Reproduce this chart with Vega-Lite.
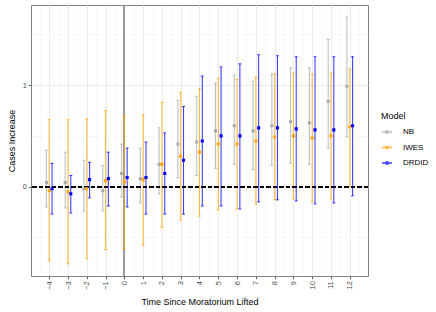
{
  "$schema": "https://vega.github.io/schema/vega-lite/v6.json",
  "autosize": "none",
  "width": 337,
  "height": 271,
  "padding": {"left": 31, "top": 5, "right": 68, "bottom": 36},
  "background": "white",
  "config": {
    "font": "Liberation Sans",
    "view": {"stroke": "#808080", "strokeWidth": 1},
    "axis": {
      "domain": false,
      "labelFont": "Liberation Sans",
      "titleFont": "Liberation Sans",
      "labelColor": "#4d4d4d",
      "labelFontSize": 7.5,
      "titleFontSize": 9,
      "titleFontWeight": "normal",
      "titleColor": "#000000",
      "tickColor": "#333333",
      "tickSize": 2.7,
      "tickWidth": 0.8
    },
    "legend": {
      "titleFont": "Liberation Sans",
      "labelFont": "Liberation Sans",
      "titleFontSize": 9,
      "titleFontWeight": "normal",
      "labelFontSize": 8,
      "labelColor": "#000000"
    }
  },
  "data": {
    "values": [
      {"t": -4, "Model": "NB", "est": 0.04, "lo": -0.20, "hi": 0.36},
      {"t": -3, "Model": "NB", "est": 0.04, "lo": -0.21, "hi": 0.34},
      {"t": -2, "Model": "NB", "est": -0.02, "lo": -0.24, "hi": 0.26},
      {"t": -1, "Model": "NB", "est": -0.04, "lo": -0.24, "hi": 0.21},
      {"t": 0, "Model": "NB", "est": 0.13, "lo": -0.10, "hi": 0.42},
      {"t": 1, "Model": "NB", "est": 0.08, "lo": -0.16, "hi": 0.38},
      {"t": 2, "Model": "NB", "est": 0.22, "lo": -0.07, "hi": 0.58},
      {"t": 3, "Model": "NB", "est": 0.42, "lo": 0.09, "hi": 0.85},
      {"t": 4, "Model": "NB", "est": 0.44, "lo": 0.11, "hi": 0.89},
      {"t": 5, "Model": "NB", "est": 0.55, "lo": 0.18, "hi": 1.02},
      {"t": 6, "Model": "NB", "est": 0.60, "lo": 0.22, "hi": 1.10},
      {"t": 7, "Model": "NB", "est": 0.55, "lo": 0.17, "hi": 1.04},
      {"t": 8, "Model": "NB", "est": 0.60, "lo": 0.21, "hi": 1.11},
      {"t": 9, "Model": "NB", "est": 0.64, "lo": 0.23, "hi": 1.17},
      {"t": 10, "Model": "NB", "est": 0.63, "lo": 0.22, "hi": 1.17},
      {"t": 11, "Model": "NB", "est": 0.84, "lo": 0.38, "hi": 1.45},
      {"t": 12, "Model": "NB", "est": 0.99, "lo": 0.49, "hi": 1.67},
      {"t": -4, "Model": "IWES", "est": -0.04, "lo": -0.73, "hi": 0.66},
      {"t": -3, "Model": "IWES", "est": -0.05, "lo": -0.76, "hi": 0.66},
      {"t": -2, "Model": "IWES", "est": -0.02, "lo": -0.71, "hi": 0.67},
      {"t": -1, "Model": "IWES", "est": 0.06, "lo": -0.62, "hi": 0.75},
      {"t": 0, "Model": "IWES", "est": 0.05, "lo": -0.61, "hi": 0.70},
      {"t": 1, "Model": "IWES", "est": 0.07, "lo": -0.58, "hi": 0.71},
      {"t": 2, "Model": "IWES", "est": 0.22, "lo": -0.40, "hi": 0.83},
      {"t": 3, "Model": "IWES", "est": 0.30, "lo": -0.33, "hi": 0.93},
      {"t": 4, "Model": "IWES", "est": 0.34, "lo": -0.29, "hi": 0.97},
      {"t": 5, "Model": "IWES", "est": 0.42, "lo": -0.23, "hi": 1.07},
      {"t": 6, "Model": "IWES", "est": 0.42, "lo": -0.22, "hi": 1.06},
      {"t": 7, "Model": "IWES", "est": 0.45, "lo": -0.17, "hi": 1.08},
      {"t": 8, "Model": "IWES", "est": 0.49, "lo": -0.13, "hi": 1.11},
      {"t": 9, "Model": "IWES", "est": 0.50, "lo": -0.12, "hi": 1.12},
      {"t": 10, "Model": "IWES", "est": 0.48, "lo": -0.15, "hi": 1.11},
      {"t": 11, "Model": "IWES", "est": 0.50, "lo": -0.12, "hi": 1.12},
      {"t": 12, "Model": "IWES", "est": 0.59, "lo": 0.00, "hi": 1.16},
      {"t": -4, "Model": "DRDID", "est": -0.02, "lo": -0.27, "hi": 0.23},
      {"t": -3, "Model": "DRDID", "est": -0.07, "lo": -0.26, "hi": 0.11},
      {"t": -2, "Model": "DRDID", "est": 0.07, "lo": -0.11, "hi": 0.24},
      {"t": -1, "Model": "DRDID", "est": 0.08, "lo": -0.19, "hi": 0.34},
      {"t": 0, "Model": "DRDID", "est": 0.09, "lo": -0.20, "hi": 0.38},
      {"t": 1, "Model": "DRDID", "est": 0.09, "lo": -0.27, "hi": 0.44},
      {"t": 2, "Model": "DRDID", "est": 0.13, "lo": -0.27, "hi": 0.53},
      {"t": 3, "Model": "DRDID", "est": 0.26, "lo": -0.27, "hi": 0.79},
      {"t": 4, "Model": "DRDID", "est": 0.45, "lo": -0.19, "hi": 1.09},
      {"t": 5, "Model": "DRDID", "est": 0.50, "lo": -0.19, "hi": 1.18},
      {"t": 6, "Model": "DRDID", "est": 0.50, "lo": -0.22, "hi": 1.21},
      {"t": 7, "Model": "DRDID", "est": 0.58, "lo": -0.15, "hi": 1.30},
      {"t": 8, "Model": "DRDID", "est": 0.58, "lo": -0.13, "hi": 1.29},
      {"t": 9, "Model": "DRDID", "est": 0.57, "lo": -0.14, "hi": 1.28},
      {"t": 10, "Model": "DRDID", "est": 0.56, "lo": -0.17, "hi": 1.28},
      {"t": 11, "Model": "DRDID", "est": 0.56, "lo": -0.16, "hi": 1.28},
      {"t": 12, "Model": "DRDID", "est": 0.60, "lo": -0.09, "hi": 1.28}
    ]
  },
  "encoding": {
    "x": {
      "field": "t",
      "type": "quantitative",
      "title": "Time Since Moratorium Lifted",
      "scale": {"domain": [-4.97, 12.97], "nice": false, "zero": false},
      "axis": {
        "values": [-4.5, -4, -3.5, -3, -2.5, -2, -1.5, -1, -0.5, 0, 0.5, 1, 1.5, 2, 2.5, 3, 3.5, 4, 4.5, 5, 5.5, 6, 6.5, 7, 7.5, 8, 8.5, 9, 9.5, 10, 10.5, 11, 11.5, 12, 12.5],
        "labelExpr": "datum.value % 1 === 0 ? format(datum.value, 'd') : ''",
        "labelAngle": -90,
        "labelAlign": "right",
        "labelBaseline": "middle",
        "labelPadding": 2,
        "labelFlush": false,
        "labelOverlap": false,
        "titlePadding": 8,
        "grid": true,
        "gridColor": {"condition": {"test": "datum.value % 1 === 0", "value": "#ebebeb"}, "value": "#f4f4f4"},
        "gridWidth": {"condition": {"test": "datum.value % 1 === 0", "value": 1}, "value": 0.6},
        "tickOpacity": {"condition": {"test": "datum.value % 1 === 0", "value": 1}, "value": 0}
      }
    },
    "y": {
      "field": "est",
      "type": "quantitative",
      "title": "Cases Increase",
      "scale": {"domain": [-0.88, 1.79], "nice": false, "zero": false},
      "axis": {
        "values": [-0.5, 0, 0.5, 1, 1.5],
        "labelExpr": "datum.value % 1 === 0 ? format(datum.value, 'd') : ''",
        "labelPadding": 2,
        "titlePadding": 6,
        "grid": true,
        "gridColor": {"condition": {"test": "datum.value % 1 === 0", "value": "#ebebeb"}, "value": "#f4f4f4"},
        "gridWidth": {"condition": {"test": "datum.value % 1 === 0", "value": 1}, "value": 0.6},
        "tickOpacity": {"condition": {"test": "datum.value % 1 === 0", "value": 1}, "value": 0}
      }
    },
    "color": {
      "field": "Model",
      "type": "nominal",
      "scale": {"domain": ["NB", "IWES", "DRDID"], "range": ["#a9a9a9", "#ffa500", "#0000ff"]},
      "legend": {
        "title": "Model",
        "orient": "none",
        "legendX": 350,
        "legendY": 107,
        "symbolType": "M-1,0H1M-0.2,-0.2H0.2V0.2H-0.2Z",
        "symbolSize": 100,
        "symbolStrokeWidth": 1.3,
        "rowPadding": 5.5,
        "labelOffset": 10,
        "titlePadding": 5
      }
    }
  },
  "layer": [
    {
      "mark": {"type": "rule", "color": "#999999", "strokeWidth": 1},
      "encoding": {"x": {"datum": 0, "type": "quantitative"}, "y": null, "color": null}
    },
    {
      "transform": [{"filter": "datum.Model === 'NB'"}],
      "mark": {"type": "rule", "strokeWidth": 1.1, "opacity": 0.75, "xOffset": -2.8},
      "encoding": {"y": {"field": "lo", "type": "quantitative", "title": "Cases Increase"}, "y2": {"field": "hi"}}
    },
    {
      "transform": [{"filter": "datum.Model === 'NB'"}],
      "mark": {"type": "tick", "orient": "horizontal", "size": 3, "thickness": 1, "opacity": 0.75, "xOffset": -2.8},
      "encoding": {"y": {"field": "lo", "type": "quantitative", "title": "Cases Increase"}}
    },
    {
      "transform": [{"filter": "datum.Model === 'NB'"}],
      "mark": {"type": "tick", "orient": "horizontal", "size": 3, "thickness": 1, "opacity": 0.75, "xOffset": -2.8},
      "encoding": {"y": {"field": "hi", "type": "quantitative", "title": "Cases Increase"}}
    },
    {
      "transform": [{"filter": "datum.Model === 'IWES'"}],
      "mark": {"type": "rule", "strokeWidth": 1.1, "opacity": 0.75},
      "encoding": {"y": {"field": "lo", "type": "quantitative", "title": "Cases Increase"}, "y2": {"field": "hi"}}
    },
    {
      "transform": [{"filter": "datum.Model === 'IWES'"}],
      "mark": {"type": "tick", "orient": "horizontal", "size": 3, "thickness": 1, "opacity": 0.75},
      "encoding": {"y": {"field": "lo", "type": "quantitative", "title": "Cases Increase"}}
    },
    {
      "transform": [{"filter": "datum.Model === 'IWES'"}],
      "mark": {"type": "tick", "orient": "horizontal", "size": 3, "thickness": 1, "opacity": 0.75},
      "encoding": {"y": {"field": "hi", "type": "quantitative", "title": "Cases Increase"}}
    },
    {
      "transform": [{"filter": "datum.Model === 'DRDID'"}],
      "mark": {"type": "rule", "strokeWidth": 1.1, "opacity": 0.75, "xOffset": 2.8},
      "encoding": {"y": {"field": "lo", "type": "quantitative", "title": "Cases Increase"}, "y2": {"field": "hi"}}
    },
    {
      "transform": [{"filter": "datum.Model === 'DRDID'"}],
      "mark": {"type": "tick", "orient": "horizontal", "size": 3, "thickness": 1, "opacity": 0.75, "xOffset": 2.8},
      "encoding": {"y": {"field": "lo", "type": "quantitative", "title": "Cases Increase"}}
    },
    {
      "transform": [{"filter": "datum.Model === 'DRDID'"}],
      "mark": {"type": "tick", "orient": "horizontal", "size": 3, "thickness": 1, "opacity": 0.75, "xOffset": 2.8},
      "encoding": {"y": {"field": "hi", "type": "quantitative", "title": "Cases Increase"}}
    },
    {
      "mark": {"type": "rule", "color": "#000000", "strokeWidth": 1.1, "strokeDash": [4, 2.5]},
      "encoding": {"y": {"datum": 0, "type": "quantitative"}, "x": null, "color": null}
    },
    {
      "transform": [{"filter": "datum.Model === 'NB'"}],
      "mark": {"type": "square", "size": 3, "filled": false, "strokeWidth": 1.4, "opacity": 1, "xOffset": -2.8}
    },
    {
      "transform": [{"filter": "datum.Model === 'IWES'"}],
      "mark": {"type": "square", "size": 3, "filled": false, "strokeWidth": 1.4, "opacity": 1}
    },
    {
      "transform": [{"filter": "datum.Model === 'DRDID'"}],
      "mark": {"type": "square", "size": 3, "filled": false, "strokeWidth": 1.4, "opacity": 1, "xOffset": 2.8}
    }
  ]
}
